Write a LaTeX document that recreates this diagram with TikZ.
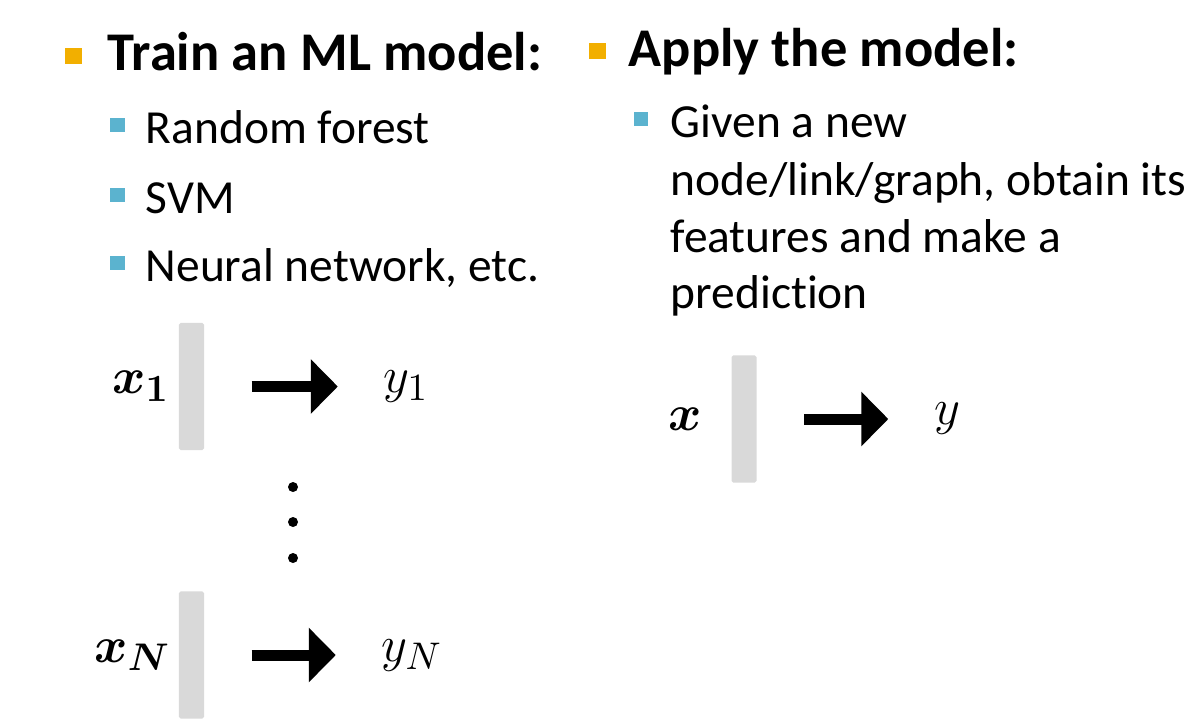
\documentclass[tikz,border=0pt]{standalone}
\usepackage{amsmath,amssymb}
\usepackage{fontspec}
\setmainfont[Ligatures={NoCommon,NoRare,NoDiscretionary},Contextuals={NoAlternate}]{Carlito}
\usetikzlibrary{arrows.meta,positioning}
\definecolor{bulletorange}{HTML}{F2AF00}
\definecolor{bulletblue}{HTML}{5BB3CF}
\definecolor{bargray}{HTML}{D9D9D9}

\begin{document}
\begin{tikzpicture}[x=0.01cm,y=-0.01cm,
  head/.style={anchor=base west,inner sep=0pt,font=\fontsize{15.5}{18}\selectfont\bfseries},
  item/.style={anchor=base west,inner sep=0pt,font=\fontsize{13.5}{16}\selectfont},
  mainbullet/.style={fill=bulletorange,minimum size=0.165cm,inner sep=0pt},
  subbullet/.style={fill=bulletblue,minimum size=0.14cm,inner sep=0pt},
  featbar/.style={fill=bargray,rounded corners=0.5pt,minimum width=0.25cm,minimum height=1.27cm,inner sep=0pt},
  lbl/.style={inner sep=0pt,font=\fontsize{15}{18}\selectfont},
  bigarrow/.style={line width=0.11cm,-{Triangle[length=0.27cm,width=0.53cm]},shorten <=0.47cm,shorten >=0.45cm}]
\useasboundingbox (0,0) rectangle (1200,726);

\node[mainbullet] (mb1) at (73.5,56) {};
\node[head] (train) at (107,70) {Train an ML model:};
\foreach \y/\t [count=\i] in {143/Random forest,213/SVM,281/{Neural network, etc.}}{
  \node[subbullet] (sb\i) at (117.5,\y-18) {};
  \node[item] (it\i) at (145,\y) {\t};
}

\node[mainbullet] (mb2) at (597.5,51) {};
\node[head] (apply) at (628,66) {Apply the model:};
\node[subbullet] (sb4) at (641,119) {};
\node[item] (g1) at (670,137) {Given a new};
\node[item] (g2) at (670,195) {node/link/graph, obtain its};
\node[item] (g3) at (670,252) {features and make a};
\node[item] (g4) at (670,308) {predic\kern0pt tion};

\node[featbar] (bar1) at (191.5,386.5) {};
\node[featbar] (barN) at (191.5,655) {};
\node[featbar] (bar) at (744,419) {};
\node[lbl,left=0.08cm of bar1] (x1) {$\boldsymbol{x_1}$};
\node[lbl,left=0.07cm of barN] (xN) {$\boldsymbol{x_N}$};
\node[lbl,left=0.28cm of bar] (x) {$\boldsymbol{x}$};
\node[lbl,right=1.78cm of bar1] (y1) {$y_1$};
\node[lbl,right=1.76cm of barN] (yN) {$y_N$};
\node[lbl,right=1.76cm of bar] (y) {$y$};
\draw[bigarrow] (bar1.east) -- (bar1.east -| y1.west);
\draw[bigarrow] (barN.east) -- (barN.east -| yN.west);
\draw[bigarrow] (bar.east) -- (bar.east -| y.west);

\foreach \y in {487,522,558} \fill (293,\y) circle (0.05cm);
\end{tikzpicture}
\end{document}
